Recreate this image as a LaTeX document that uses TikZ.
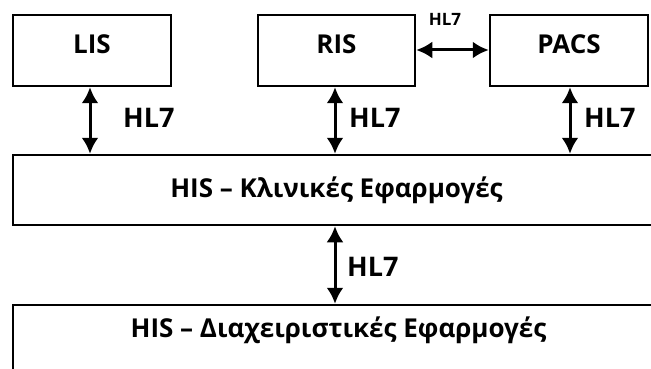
\documentclass[tikz,border=0pt]{standalone}
\usepackage{fontspec}
\setmainfont{Open Sans}
\usetikzlibrary{arrows.meta}
\tikzset{
  box/.style={draw=black, line width=2.5pt, minimum height=71pt, inner sep=0pt, fill=white},
  txt/.style={font=\bfseries\fontsize{26}{30}\selectfont, inner sep=0pt},
  hl/.style={font=\bfseries\fontsize{27}{30}\selectfont, inner sep=0pt, anchor=west},
  hlsmall/.style={font=\bfseries\fontsize{17}{19}\selectfont, inner sep=0pt},
  dbl/.style={line width=3pt, {Latex[length=16pt,width=17pt]}-{Latex[length=16pt,width=17pt]}}
}
\begin{document}
\begin{tikzpicture}[x=1pt,y=-1pt]
\useasboundingbox (0,0) rectangle (651,369);
\clip (0,0) rectangle (651,369);
\fill[white] (0,0) rectangle (651,369);
\node[box, minimum width=158pt] (lis) at (92,50.5) {};
\node[txt] (listxt) at (92,44) {LIS};
\node[box, minimum width=157pt] (ris) at (336.5,50.5) {};
\node[txt] (ristxt) at (336.5,44) {RIS};
\node[box, minimum width=158pt] (pacs) at (569,50.5) {};
\node[txt] (pacstxt) at (569,44) {PACS};
\node[box, minimum width=700pt, minimum height=70pt] (his1) at (363,190) {};
\node[txt] (his1txt) at (336.5,190) {HIS – Κλινικές Εφαρμογές};
\node[box, minimum width=700pt, minimum height=120pt] (his2) at (363,365) {};
\node[txt] (his2txt) at (338.5,330) {HIS – Διαχειριστικές Εφαρμογές};
\draw[dbl] (lis.south -| 90,0) -- (his1.north -| 90,0);
\draw[dbl] (ris.south -| 335,0) -- (his1.north -| 335,0);
\draw[dbl] (pacs.south -| 570,0) -- (his1.north -| 570,0);
\draw[dbl] (his1.south -| 335,0) -- (his2.north -| 335,0);
\draw[dbl] (ris.east |- 0,50) -- (pacs.west |- 0,50);
\node[hl] (l1) at (123,118) {HL7};
\node[hl] (l2) at (349,118) {HL7};
\node[hl] (l3) at (584,118) {HL7};
\node[hl] (l4) at (347,267) {HL7};
\node[hlsmall] (l5) at (445,19) {HL7};
\end{tikzpicture}
\end{document}
